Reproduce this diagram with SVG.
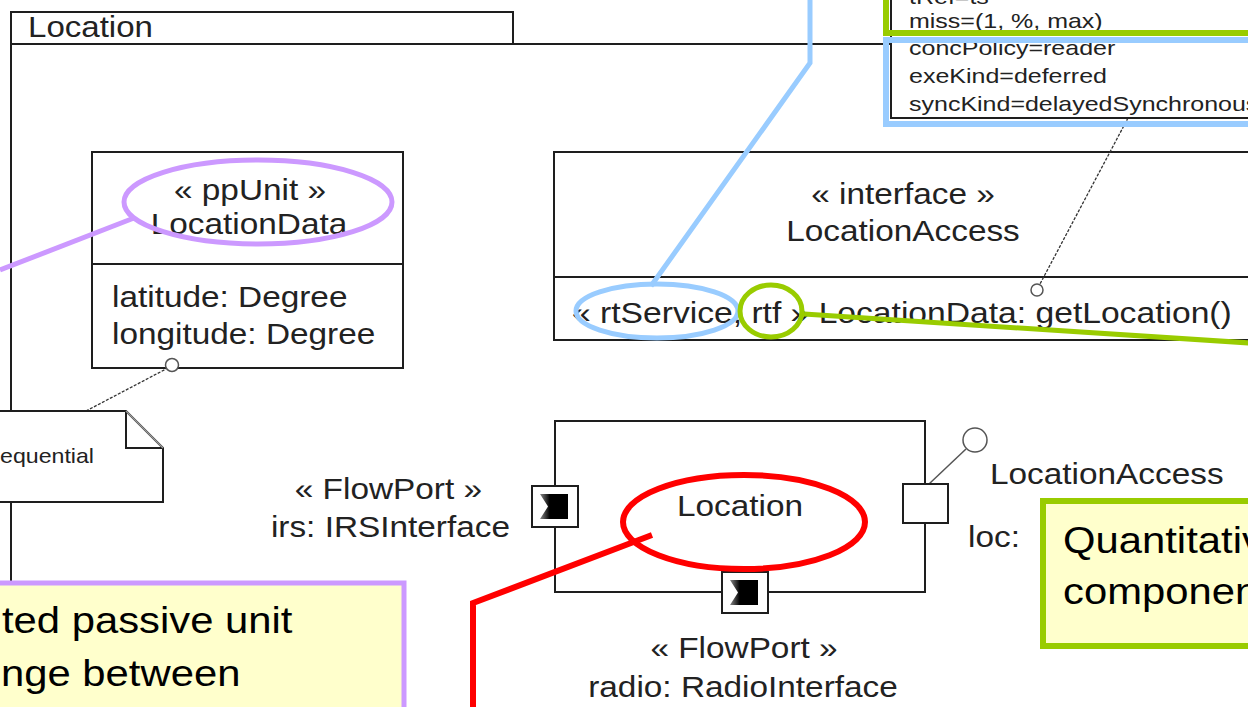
<svg xmlns="http://www.w3.org/2000/svg" width="1248" height="707" viewBox="0 0 1248 707">
  <style>
    .ln { fill: none; stroke: #1e1e1e; stroke-width: 2; }
    .box { fill: #ffffff; stroke: #1e1e1e; stroke-width: 2; }
    .t { font-family: "Liberation Sans", Arial, sans-serif; font-size: 29px; fill: #222222; }
    .nt { font-family: "Liberation Sans", Arial, sans-serif; font-size: 21px; fill: #222222; }
    .big { font-family: "Liberation Sans", Arial, sans-serif; font-size: 37px; fill: #000000; }
    .anchor { fill: none; stroke: #333333; stroke-width: 1.3; stroke-dasharray: 3 1.5; }
    .lolli { fill: #ffffff; stroke: #555555; stroke-width: 1.5; }
    .yellow { fill: #ffffcc; }
  </style>
  <defs>
    <linearGradient id="portShade" x1="0" y1="0" x2="1" y2="0">
      <stop offset="0" stop-color="#8a8a8a"/>
      <stop offset="0.35" stop-color="#000000"/>
      <stop offset="1" stop-color="#000000"/>
    </linearGradient>
    <!-- flow port glyph: 46 x 41 square with a notched filled flag -->
    <g id="flowPort">
      <rect x="0" y="0" width="46" height="41" class="box"/>
      <polygon points="8,8 36,8 36,33 8,33 16,20.5" fill="url(#portShade)"/>
    </g>
  </defs>

  <rect width="1248" height="707" fill="#ffffff"/>

  <!-- package frame -->
  <g id="frame">
    <rect x="11" y="12" width="502" height="32" class="ln"/>
    <path d="M11 44 H1248 M11 44 V707" class="ln"/>
    <text class="t" font-size="30" transform="translate(28 37) scale(1.14 1)">Location</text>
  </g>

  <!-- class LocationData -->
  <g id="node-locationdata">
    <rect x="92" y="152" width="311" height="216" class="box"/>
    <line x1="92" y1="264" x2="403" y2="264" class="ln"/>
    <text class="t" text-anchor="middle" transform="translate(250 200) scale(1.15 1)">« ppUnit »</text>
    <text class="t" text-anchor="middle" transform="translate(249 234) scale(1.15 1)">LocationData</text>
    <text class="t" transform="translate(112 307) scale(1.15 1)">latitude: Degree</text>
    <text class="t" transform="translate(112 344) scale(1.15 1)">longitude: Degree</text>
  </g>

  <!-- interface LocationAccess -->
  <g id="node-interface">
    <rect x="554" y="152" width="710" height="188" class="box"/>
    <line x1="554" y1="277" x2="1264" y2="277" class="ln"/>
    <text class="t" text-anchor="middle" transform="translate(903 204) scale(1.15 1)">« interface »</text>
    <text class="t" text-anchor="middle" transform="translate(903 241) scale(1.15 1)">LocationAccess</text>
    <text class="t" transform="translate(572 323) scale(1.16 1)">« rtService, rtf » LocationData: getLocation()</text>
  </g>

  <!-- component Location with its ports -->
  <g id="node-component">
    <rect x="555" y="421" width="370" height="171" class="box"/>
    <text class="t" text-anchor="middle" transform="translate(740 516) scale(1.15 1)">Location</text>
    <use href="#flowPort" x="532" y="486"/>
    <use href="#flowPort" x="722" y="572"/>
    <line x1="929" y1="484" x2="966" y2="449" class="lolli"/>
    <circle cx="975" cy="440" r="12" class="lolli"/>
    <rect x="903" y="484" width="45" height="39" class="box"/>
    <text class="t" text-anchor="end" transform="translate(482 499) scale(1.15 1)">« FlowPort »</text>
    <text class="t" text-anchor="end" transform="translate(510 537) scale(1.15 1)">irs: IRSInterface</text>
    <text class="t" transform="translate(990 484) scale(1.15 1)">LocationAccess</text>
    <text class="t" transform="translate(968 547) scale(1.15 1)">loc:</text>
    <text class="t" text-anchor="middle" transform="translate(744 658) scale(1.15 1)">« FlowPort »</text>
    <text class="t" text-anchor="middle" transform="translate(743 697) scale(1.15 1)">radio: RadioInterface</text>
  </g>

  <!-- note anchors -->
  <g id="connectors">
    <line x1="1128" y1="118" x2="1040" y2="284" class="anchor"/>
    <circle cx="1037" cy="290" r="6" class="lolli"/>
    <line x1="86" y1="411" x2="166" y2="369" class="anchor"/>
    <circle cx="172" cy="365" r="6.5" class="lolli"/>
  </g>

  <!-- rtf note -->
  <g id="note-rtf">
    <rect x="891" y="-10" width="370" height="128" class="box"/>
    <text class="nt" transform="translate(909 4) scale(1.19 1)">tRef=ts</text>
    <text class="nt" transform="translate(909 28) scale(1.19 1)">miss=(1, %, max)</text>
    <text class="nt" transform="translate(909 55) scale(1.19 1)">concPolicy=reader</text>
    <text class="nt" transform="translate(909 83) scale(1.19 1)">exeKind=deferred</text>
    <text class="nt" transform="translate(909 111) scale(1.19 1)">syncKind=delayedSynchronous</text>
  </g>

  <!-- sequential note -->
  <g id="note-seq">
    <polygon points="-5,411 126,411 163,448 163,502 -5,502" class="box"/>
    <path d="M126 411 V448 H163" class="ln"/>
    <line x1="126" y1="411" x2="163" y2="448" stroke="#9a9a9a" stroke-width="1.5"/>
    <text class="nt" x="0" y="463" font-size="20" textLength="94" lengthAdjust="spacingAndGlyphs">equential</text>
  </g>

  <!-- ppUnit comment -->
  <g id="note-ppunit">
    <rect x="-10" y="583" width="414" height="200" class="yellow" stroke="#cc99ff" stroke-width="5"/>
    <text class="big" transform="translate(2 633) scale(1.13 1)">ted passive unit</text>
    <text class="big" transform="translate(1 686) scale(1.13 1)">nge between</text>
  </g>

  <!-- quantitative comment -->
  <g id="note-quant">
    <rect x="1043" y="501" width="230" height="145" class="yellow" stroke="#99cc00" stroke-width="6"/>
    <text class="big" transform="translate(1063 553) scale(1.13 1)">Quantitative</text>
    <text class="big" transform="translate(1063 604) scale(1.13 1)">component</text>
  </g>

  <!-- coloured call-outs -->
  <g id="callouts" fill="none" stroke-linejoin="miter">
    <rect x="886" y="-10" width="380" height="43" stroke="#99cc00" stroke-width="6"/>
    <rect x="886" y="40" width="380" height="84" stroke="#99ccff" stroke-width="6"/>
    <polyline points="810,0 810,63 651,286" stroke="#99ccff" stroke-width="5"/>
    <ellipse cx="657" cy="311" rx="81" ry="27" stroke="#99ccff" stroke-width="5"/>
    <line x1="804" y1="314" x2="1250" y2="343" stroke="#99cc00" stroke-width="5"/>
    <ellipse cx="771" cy="311" rx="31" ry="26" stroke="#99cc00" stroke-width="5"/>
    <line x1="0" y1="270" x2="134" y2="218" stroke="#cc99ff" stroke-width="5"/>
    <ellipse cx="258" cy="202" rx="134" ry="42" stroke="#cc99ff" stroke-width="5"/>
    <polyline points="652,535 473,603 473,710" stroke="#ff0000" stroke-width="6"/>
    <ellipse cx="744" cy="522" rx="121" ry="47" stroke="#ff0000" stroke-width="6"/>
  </g>
</svg>
